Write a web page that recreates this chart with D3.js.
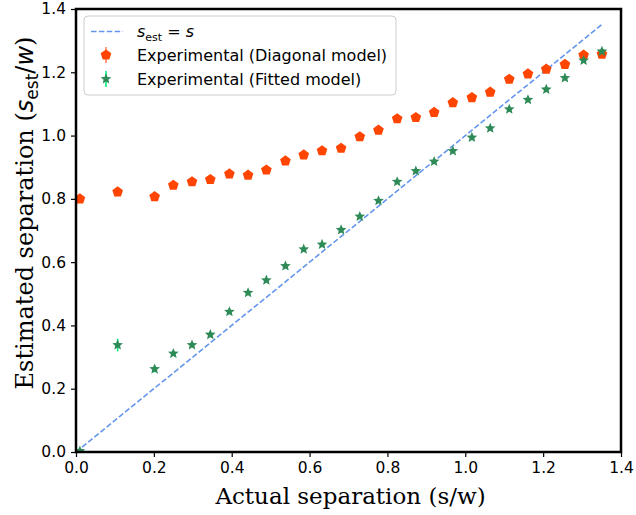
<!DOCTYPE html>
<html>
<head>
<meta charset="utf-8">
<script src="https://cdn.jsdelivr.net/npm/d3@7"></script>
<style>
  body { margin: 0; background: #fff; }
  svg { display: block; }
  .tick text { font-family: "DejaVu Sans", sans-serif; font-size: 15.5px; fill: #000; }
  .tick line { stroke: #000; stroke-width: 1.2; }
</style>
</head>
<body>
<svg width="636" height="515"></svg>
<script>
// values
const sActual = [0.010, 0.107, 0.202, 0.250, 0.298, 0.345, 0.394, 0.442, 0.489, 0.538, 0.585, 0.632, 0.681, 0.729,
                 0.777, 0.825, 0.873, 0.920, 0.968, 1.017, 1.064, 1.113, 1.161, 1.208, 1.256, 1.304, 1.351];
const diagonal = [0.800, 0.822, 0.807, 0.843, 0.854, 0.861, 0.879, 0.875, 0.891, 0.920, 0.939, 0.952, 0.960, 0.996,
                  1.017, 1.053, 1.057, 1.073, 1.104, 1.120, 1.137, 1.178, 1.195, 1.210, 1.225, 1.254, 1.257];
const diagonalErr = [0.006, 0.006, 0.006, 0.006, 0.006, 0.006, 0.006, 0.006, 0.006, 0.006, 0.006, 0.006, 0.006, 0.006,
                     0.006, 0.006, 0.006, 0.006, 0.006, 0.006, 0.006, 0.006, 0.006, 0.006, 0.006, 0.008, 0.008];
const fitted = [0.003, 0.338, 0.262, 0.311, 0.338, 0.371, 0.443, 0.503, 0.543, 0.588, 0.641, 0.656, 0.702, 0.744,
                0.794, 0.854, 0.888, 0.918, 0.951, 0.994, 1.023, 1.083, 1.113, 1.146, 1.182, 1.237, 1.266];
const fittedErr = [0.006, 0.020, 0.010, 0.006, 0.006, 0.006, 0.006, 0.006, 0.006, 0.006, 0.006, 0.006, 0.006, 0.006,
                   0.006, 0.006, 0.006, 0.006, 0.006, 0.006, 0.006, 0.006, 0.006, 0.006, 0.006, 0.006, 0.008];
const ticks = [0, 0.2, 0.4, 0.6, 0.8, 1.0, 1.2, 1.4];

const margin = {top: 9, right: 15, bottom: 63, left: 76},
    width = 636 - margin.left - margin.right,
    height = 515 - margin.top - margin.bottom;

const x = d3.scaleLinear().domain([0, 1.4]).range([0, width]);
const y = d3.scaleLinear().domain([0, 1.4]).range([height, 0]);

const orange = "#ff4500", orangeErr = "#ff8060",
      green = "#2e8b57", greenErr = "#00f07a",
      blue = "#6495ed";

function pentagon(r) {
  const pts = d3.range(5).map(k => {
    const a = -Math.PI / 2 + k * 2 * Math.PI / 5;
    return [r * Math.cos(a), r * Math.sin(a)];
  });
  return "M" + pts.join("L") + "Z";
}
function star(r) {
  const ri = r * 0.45;
  const pts = d3.range(10).map(k => {
    const a = -Math.PI / 2 + k * Math.PI / 5;
    const rr = k % 2 ? ri : r;
    return [rr * Math.cos(a), rr * Math.sin(a)];
  });
  return "M" + pts.join("L") + "Z";
}

const svg = d3.select("svg")
  .append("g")
  .attr("transform", `translate(${margin.left},${margin.top})`);

svg.append("defs").append("clipPath").attr("id", "clip")
  .append("rect").attr("width", width).attr("height", height);

const plot = svg.append("g").attr("clip-path", "url(#clip)");

// identity line
plot.append("line")
  .attr("x1", x(0)).attr("y1", y(0))
  .attr("x2", x(d3.max(sActual))).attr("y2", y(d3.max(sActual)))
  .attr("stroke", blue).attr("stroke-width", 1.6)
  .attr("stroke-dasharray", "5.5,2.4");

function drawSeries(vals, errs, markColor, errColor, shape) {
  const data = sActual.map((s, i) => ({s, v: vals[i], e: errs[i]}));
  plot.append("g").selectAll("line")
    .data(data).enter().append("line")
    .attr("x1", d => x(d.s)).attr("x2", d => x(d.s))
    .attr("y1", d => y(d.v - d.e)).attr("y2", d => y(d.v + d.e))
    .attr("stroke", errColor).attr("stroke-width", 1.6);
  plot.append("g").selectAll("path")
    .data(data).enter().append("path")
    .attr("transform", d => `translate(${x(d.s)},${y(d.v)})`)
    .attr("d", shape)
    .attr("fill", markColor);
}

drawSeries(diagonal, diagonalErr, orange, orangeErr, pentagon(5.6));
drawSeries(fitted, fittedErr, green, greenErr, star(5.6));

// axes
svg.append("g")
  .attr("transform", `translate(0,${height})`)
  .call(d3.axisBottom(x).tickValues(ticks).tickFormat(d3.format(".1f")).tickSize(5).tickPadding(5))
  .call(g => g.select(".domain").remove());

svg.append("g")
  .call(d3.axisLeft(y).tickValues(ticks).tickFormat(d3.format(".1f")).tickSize(5).tickPadding(5))
  .call(g => g.select(".domain").remove());

svg.append("rect")
  .attr("width", width).attr("height", height)
  .attr("fill", "none").attr("stroke", "#000").attr("stroke-width", 2.5);

// axis labels
svg.append("text")
  .attr("x", width / 2 + 2).attr("y", 494.5)
  .attr("text-anchor", "middle")
  .style("font-family", "'DejaVu Serif', serif").style("font-size", "23px")
  .text("Actual separation (s/w)");

const yl = svg.append("text")
  .attr("transform", `translate(${33 - margin.left},${213 - margin.top}) rotate(-90)`)
  .attr("text-anchor", "middle")
  .style("font-family", "'DejaVu Serif', serif").style("font-size", "24px");
yl.append("tspan").text("Estimated separation (");
yl.append("tspan").style("font-family", "'DejaVu Sans', sans-serif").style("font-style", "italic").text("s");
yl.append("tspan").style("font-family", "'DejaVu Sans', sans-serif").style("font-size", "17px").attr("dy", 5).text("est");
yl.append("tspan").style("font-family", "'DejaVu Sans', sans-serif").attr("dy", -5).text("/");
yl.append("tspan").style("font-family", "'DejaVu Sans', sans-serif").style("font-style", "italic").text("w");
yl.append("tspan").text(")");

// legend
const lg = svg.append("g").attr("transform", `translate(${84 - margin.left},${16 - margin.top})`);
lg.append("rect")
  .attr("width", 312).attr("height", 79).attr("rx", 4)
  .attr("fill", "#fff").attr("fill-opacity", 0.8)
  .attr("stroke", "#cccccc").attr("stroke-width", 1);

const rows = [15.5, 39, 63];
lg.append("line")
  .attr("x1", 7).attr("x2", 39).attr("y1", rows[0]).attr("y2", rows[0])
  .attr("stroke", blue).attr("stroke-width", 1.6).attr("stroke-dasharray", "5.5,2.4");
[[orange, orangeErr, pentagon(5.6)], [green, greenErr, star(5.6)]].forEach((m, i) => {
  const cy = rows[i + 1];
  lg.append("line").attr("x1", 22).attr("x2", 22).attr("y1", cy - 8).attr("y2", cy + 8)
    .attr("stroke", m[1]).attr("stroke-width", 1.6);
  lg.append("path").attr("transform", `translate(22,${cy})`).attr("d", m[2]).attr("fill", m[0]);
});

const lt = lg.append("text").attr("x", 53).attr("y", rows[0] + 5.5)
  .style("font-family", "'DejaVu Sans', sans-serif").style("font-size", "16px");
lt.append("tspan").style("font-style", "italic").text("s");
lt.append("tspan").style("font-size", "11px").attr("dy", 3.5).text("est");
lt.append("tspan").attr("dy", -3.5).text(" = ");
lt.append("tspan").style("font-style", "italic").text("s");

["Experimental (Diagonal model)", "Experimental (Fitted model)"].forEach((t, i) => {
  lg.append("text").attr("x", 53).attr("y", rows[i + 1] + 5.5)
    .style("font-family", "'DejaVu Sans', sans-serif").style("font-size", "16px")
    .text(t);
});
</script>
</body>
</html>
